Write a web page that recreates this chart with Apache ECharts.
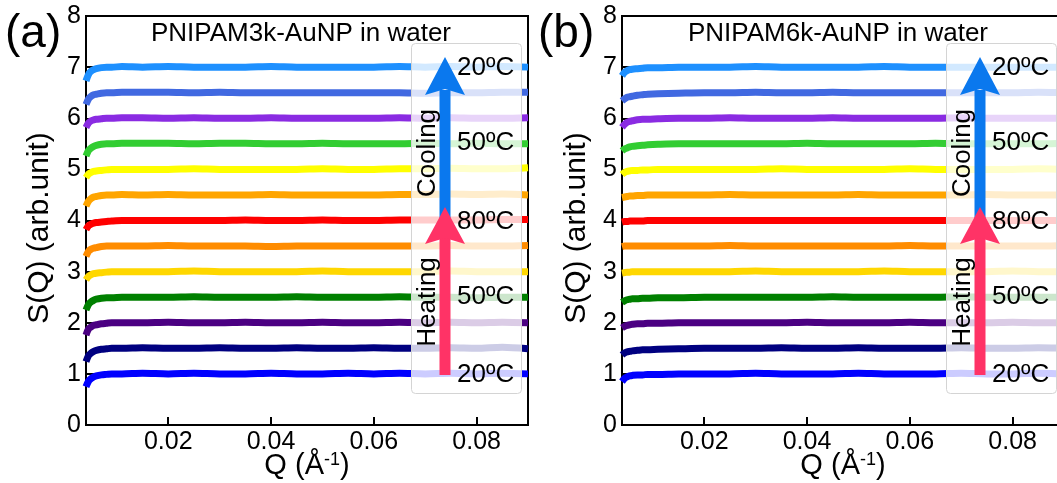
<!DOCTYPE html>
<html><head><meta charset="utf-8">
<script src="https://cdn.jsdelivr.net/npm/echarts@6/dist/echarts.min.js"></script>
<style>html,body{margin:0;padding:0;background:#fff}#c{width:1057px;height:483px}</style>
</head><body><div id="c"></div>
<script>
// ---- data ----
const Q = [0.004,0.0045,0.005,0.0055,0.006,0.007,0.008,0.009,0.011,0.015,0.02,0.025,0.03,0.035,0.04,0.045,0.05,0.055,0.06,0.065,0.07,0.075,0.08,0.085,0.09];
const xTicks = [0.02,0.04,0.06,0.08];
const yTicks = [0,1,2,3,4,5,6,7,8];
const seriesNames = ['20ºC heat','30ºC heat','40ºC heat','50ºC heat','60ºC heat','70ºC heat','80ºC','70ºC cool','60ºC cool','50ºC cool','40ºC cool','30ºC cool','20ºC cool'];
const seriesColors = ['#0000ff','#000080','#4b0082','#008000','#ffd700','#ff8c00','#ff0000','#ffa500','#ffff00','#32cd32','#8a2be2','#4169e1','#1e90ff'];
const tempLabels = ['20ºC','50ºC','80ºC','50ºC','20ºC'];
const panelTitles = ['PNIPAM3k-AuNP in water','PNIPAM6k-AuNP in water'];
const panelTags = ['(a)','(b)'];
const yTitle = 'S(Q) (arb.unit)';
const xTitle = 'Q (Å{s|-1})';

const a_s1  = [0.75,0.86,0.91,0.94,0.96,0.98,0.99,1.00,1.00,1.01,1.00,1.01,1.00,1.00,1.01,1.00,1.00,1.01,1.00,1.01,1.00,1.01,1.00,1.01,1.00];
const a_s2  = [1.24,1.36,1.41,1.44,1.46,1.48,1.49,1.50,1.50,1.51,1.50,1.50,1.51,1.50,1.50,1.51,1.50,1.50,1.51,1.50,1.50,1.51,1.50,1.52,1.49];
const a_s3  = [1.76,1.88,1.92,1.95,1.96,1.98,1.99,2.00,2.00,2.00,2.01,2.00,2.00,2.01,2.00,2.00,2.01,2.00,2.00,2.01,2.00,2.01,2.00,2.01,2.00];
const a_s4  = [2.25,2.36,2.41,2.44,2.46,2.48,2.49,2.49,2.50,2.50,2.50,2.51,2.50,2.50,2.50,2.51,2.50,2.50,2.50,2.51,2.50,2.50,2.49,2.50,2.50];
const a_s5  = [2.84,2.91,2.94,2.96,2.97,2.98,2.99,3.00,3.00,3.00,3.00,3.01,3.00,3.00,3.00,3.00,3.01,3.00,3.00,3.00,3.00,3.01,3.00,3.00,3.00];
const a_s6  = [3.30,3.40,3.44,3.46,3.47,3.49,3.50,3.50,3.50,3.50,3.51,3.50,3.50,3.50,3.49,3.50,3.50,3.50,3.50,3.50,3.50,3.51,3.50,3.50,3.51];
const a_s7  = [3.82,3.90,3.93,3.95,3.96,3.97,3.98,3.99,4.00,4.00,4.00,4.00,4.00,4.01,4.00,4.00,4.01,4.00,4.00,4.01,4.01,4.01,4.01,4.02,4.02];
const a_s8  = [4.28,4.38,4.43,4.46,4.47,4.49,4.50,4.50,4.51,4.50,4.51,4.50,4.50,4.50,4.51,4.50,4.50,4.50,4.50,4.51,4.51,4.52,4.51,4.52,4.50];
const a_s9  = [4.84,4.91,4.94,4.96,4.97,4.98,4.99,5.00,5.00,5.00,5.00,5.01,5.00,5.00,5.00,5.00,5.01,5.00,5.00,5.01,5.01,5.02,5.01,5.01,5.03];
const a_s10 = [5.26,5.37,5.42,5.45,5.47,5.49,5.50,5.50,5.51,5.51,5.51,5.50,5.51,5.51,5.50,5.50,5.51,5.50,5.50,5.50,5.51,5.50,5.51,5.50,5.50];
const a_s11 = [5.82,5.91,5.95,5.97,5.98,5.99,6.00,6.00,6.01,6.01,6.00,6.01,6.00,6.00,6.01,6.00,6.00,6.00,6.00,6.01,6.00,6.01,6.00,6.00,6.01];
const a_s12 = [6.27,6.38,6.43,6.46,6.47,6.49,6.50,6.50,6.51,6.51,6.51,6.50,6.51,6.50,6.50,6.50,6.50,6.50,6.50,6.50,6.49,6.50,6.50,6.51,6.51];
const a_s13 = [6.73,6.86,6.92,6.95,6.97,6.99,7.00,7.00,7.01,7.00,7.01,7.00,7.00,7.00,7.01,7.00,7.00,7.00,7.00,7.01,7.00,7.01,7.00,7.01,7.00];

const b_s1  = [0.85,0.91,0.94,0.96,0.97,0.98,0.98,0.99,0.99,1.00,1.00,1.00,1.01,1.00,1.00,1.00,1.01,1.00,1.00,1.00,1.01,1.00,1.00,1.01,1.00];
const b_s2  = [1.37,1.41,1.43,1.44,1.45,1.46,1.47,1.47,1.48,1.49,1.50,1.50,1.50,1.51,1.50,1.50,1.51,1.50,1.50,1.50,1.51,1.50,1.50,1.51,1.50];
const b_s3  = [1.90,1.93,1.95,1.96,1.97,1.98,1.98,1.99,1.99,2.00,2.00,2.00,2.00,2.00,2.01,2.00,2.00,2.00,2.01,2.00,2.00,2.00,2.01,2.00,2.00];
const b_s4  = [2.40,2.43,2.45,2.46,2.47,2.47,2.48,2.48,2.49,2.49,2.50,2.50,2.50,2.50,2.50,2.51,2.50,2.50,2.50,2.50,2.51,2.50,2.50,2.50,2.50];
const b_s5  = [2.97,2.98,2.99,2.99,3.00,3.00,3.00,3.00,3.00,3.00,3.00,3.00,3.01,3.00,3.00,3.00,3.00,3.01,3.00,3.00,3.00,3.00,3.01,3.00,3.00];
const b_s6  = [3.49,3.50,3.50,3.50,3.50,3.50,3.50,3.50,3.50,3.50,3.50,3.51,3.50,3.50,3.50,3.50,3.50,3.50,3.51,3.50,3.50,3.50,3.50,3.50,3.51];
const b_s7  = [3.97,3.98,3.98,3.99,3.99,3.99,3.99,4.00,4.00,4.00,4.00,4.00,4.00,4.00,4.00,4.00,4.00,4.00,4.00,4.00,4.00,4.00,4.00,4.00,4.00];
const b_s8  = [4.45,4.46,4.47,4.48,4.48,4.49,4.49,4.50,4.50,4.50,4.50,4.51,4.50,4.50,4.50,4.50,4.51,4.50,4.50,4.50,4.50,4.51,4.50,4.50,4.50];
const b_s9  = [4.90,4.94,4.96,4.97,4.98,4.98,4.99,4.99,5.00,5.00,5.00,5.00,5.00,5.01,5.00,5.00,5.00,5.00,5.01,5.00,5.00,5.00,5.00,5.01,5.00];
const b_s10 = [5.36,5.40,5.42,5.44,5.45,5.46,5.47,5.48,5.49,5.50,5.50,5.50,5.50,5.50,5.51,5.50,5.50,5.50,5.50,5.51,5.50,5.50,5.50,5.50,5.51];
const b_s11 = [5.82,5.88,5.92,5.94,5.95,5.97,5.98,5.98,5.99,6.00,6.00,6.01,6.00,6.00,6.00,6.01,6.00,6.00,6.00,6.00,6.01,6.00,6.00,6.00,6.00];
const b_s12 = [6.34,6.38,6.41,6.42,6.43,6.45,6.46,6.47,6.48,6.49,6.50,6.50,6.51,6.50,6.50,6.51,6.50,6.50,6.50,6.50,6.50,6.50,6.50,6.51,6.50];
const b_s13 = [6.83,6.90,6.93,6.95,6.96,6.97,6.98,6.99,6.99,7.00,7.00,7.00,7.01,7.00,7.00,7.00,7.00,7.01,7.00,7.00,7.00,7.00,7.00,7.00,7.00];

const panelA = [a_s1,a_s2,a_s3,a_s4,a_s5,a_s6,a_s7,a_s8,a_s9,a_s10,a_s11,a_s12,a_s13];
const panelB = [b_s1,b_s2,b_s3,b_s4,b_s5,b_s6,b_s7,b_s8,b_s9,b_s10,b_s11,b_s12,b_s13];

// ---- chart ----
const FONT = '"Liberation Sans", Arial, sans-serif';
const chart = echarts.init(document.getElementById('c'), null, {renderer:'canvas'});
const grids = [
  {left:86, top:16, width:442, height:409},
  {left:622, top:16, width:442, height:409}
];
function xAxis(i){
  return {type:'value', gridIndex:i, min:0.004, max:0.09,
    axisLine:{show:true,onZero:false,lineStyle:{color:'#000',width:2}},
    axisTick:{show:true,inside:true,length:8,customValues:xTicks,lineStyle:{color:'#000',width:2}},
    axisLabel:{show:true,customValues:xTicks,color:'#000',fontSize:25,fontFamily:FONT,margin:5,formatter:v=>v.toFixed(2)},
    splitLine:{show:false}
  };
}
function yAxis(i){
  return {type:'value', gridIndex:i, min:0, max:8, interval:1,
    axisLine:{show:true,onZero:false,lineStyle:{color:'#000',width:2}},
    axisTick:{show:true,inside:true,length:8,lineStyle:{color:'#000',width:2}},
    axisLabel:{color:'#000',fontSize:25,fontFamily:FONT,margin:5},
    splitLine:{show:false}
  };
}
const series = [];
[panelA, panelB].forEach((panel, pi) => {
  panel.forEach((vals, si) => {
    series.push({type:'line', xAxisIndex:pi, yAxisIndex:pi, name:seriesNames[si],
      data:Q.map((q,k)=>[q,vals[k]]), showSymbol:false, smooth:0.3,
      lineStyle:{color:seriesColors[si],width:7,cap:'butt'}, itemStyle:{color:seriesColors[si]},
      clip:true, z:2, animation:false});
  });
});

const graphic = [];
const boxLeft = [411, 946];
panelTags.forEach((t,i)=>{
  graphic.push({type:'text', left: i===0?5:538, top:11, z:50,
    style:{text:t, font:'46px '+FONT, fill:'#000'}});
});
panelTitles.forEach((t,i)=>{
  const cx = i===0 ? 301 : 838;
  graphic.push({type:'text', x:cx, y:34, z:50,
    style:{text:t, font:'26px '+FONT, fill:'#000', align:'center', verticalAlign:'middle'}});
});
[40, 577].forEach((xc)=>{
  graphic.push({type:'text', x:xc, y:228, z:50, rotation:Math.PI/2,
    style:{text:yTitle, font:'30px '+FONT, fill:'#000', align:'center', verticalAlign:'middle'}});
});
[307, 843].forEach((xc)=>{
  graphic.push({type:'text', x:xc, y:466, z:50,
    style:{text:xTitle, font:'29px '+FONT, fill:'#000', align:'center', verticalAlign:'middle',
      rich:{s:{font:'18px '+FONT, fill:'#000', verticalAlign:'top', padding:[0,0,8,0]}}}});
});
const labelY = [68,143,222,297,375];
boxLeft.forEach((bx)=>{
  graphic.push({type:'rect', z:40, shape:{x:bx+0.5,y:43.5,width:110,height:350,r:4},
    style:{fill:'rgba(255,255,255,0.8)',stroke:'#d4d4d4',lineWidth:1}});
  const ax = bx + 34;
  // cooling arrow (blue)
  graphic.push({type:'rect', z:41, shape:{x:ax-5.5,y:90,width:11,height:135}, style:{fill:'#0a78ee'}});
  graphic.push({type:'polygon', z:41, shape:{points:[[ax-20,95],[ax,57],[ax+20,95],[ax,89]]}, style:{fill:'#0a78ee'}});
  // heating arrow (red)
  graphic.push({type:'rect', z:42, shape:{x:ax-5.5,y:238,width:11,height:137}, style:{fill:'#ff3366'}});
  graphic.push({type:'polygon', z:42, shape:{points:[[ax-20,244],[ax,207],[ax+20,244],[ax,238]]}, style:{fill:'#ff3366'}});
  graphic.push({type:'text', z:43, x:bx+17, y:153, rotation:Math.PI/2,
    style:{text:'Cooling', font:'26px '+FONT, fill:'#000', align:'center', verticalAlign:'middle'}});
  graphic.push({type:'text', z:43, x:bx+17, y:302, rotation:Math.PI/2,
    style:{text:'Heating', font:'26px '+FONT, fill:'#000', align:'center', verticalAlign:'middle'}});
  tempLabels.forEach((t,k)=>{
    graphic.push({type:'text', z:43, x:bx+46, y:labelY[k],
      style:{text:t, font:'26px '+FONT, fill:'#000', align:'left', verticalAlign:'middle'}});
  });
});

chart.setOption({
  animation:false,
  backgroundColor:'#fff',
  grid: grids.map(g=>Object.assign({show:true,borderColor:'#000',borderWidth:2,backgroundColor:'transparent',containLabel:false,outerBoundsMode:'none'},g)),
  xAxis:[xAxis(0),xAxis(1)],
  yAxis:[yAxis(0),yAxis(1)],
  series:series,
  graphic:graphic
});
</script>
</body></html>
